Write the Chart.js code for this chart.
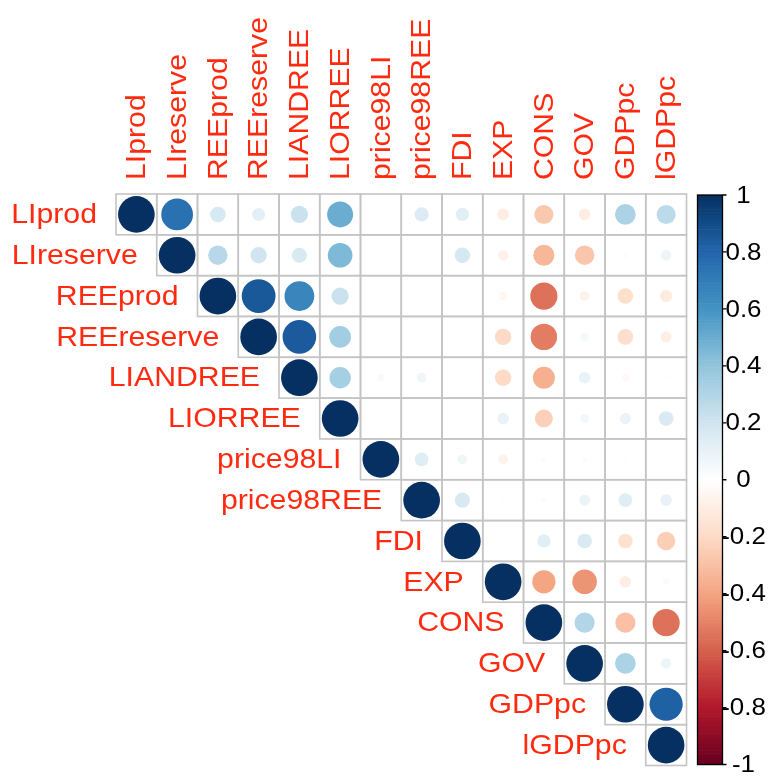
<!DOCTYPE html>
<html>
<head>
<meta charset="utf-8">
<script src="https://cdn.jsdelivr.net/npm/chart.js@4.4.1/dist/chart.umd.min.js"></script>
<style>
  html, body { margin: 0; padding: 0; background: #ffffff; }
  #wrap { width: 769px; height: 778px; position: relative; }
</style>
</head>
<body>
<div id="wrap"><canvas id="corr"></canvas></div>
<script>
// Variable names (row and column order of the correlation matrix)
const variables = ['LIprod', 'LIreserve', 'REEprod', 'REEreserve', 'LIANDREE', 'LIORREE',
  'price98LI', 'price98REE', 'FDI', 'EXP', 'CONS', 'GOV', 'GDPpc', 'lGDPpc'];

// Upper triangle of the correlation matrix, one row per variable, starting at the diagonal
const rowLIprod     = [1, 0.75, 0.18, 0.12, 0.22, 0.50, 0.01, 0.15, 0.13, -0.10, -0.27, -0.10, 0.32, 0.27];
const rowLIreserve  = [1, 0.28, 0.20, 0.17, 0.45, 0.01, 0.01, 0.18, -0.08, -0.33, -0.28, 0.02, 0.08];
const rowREEprod    = [1, 0.85, 0.66, 0.22, 0.01, -0.01, 0.00, -0.05, -0.55, -0.07, -0.18, -0.11];
const rowREEreserve = [1, 0.84, 0.35, 0.01, 0.01, 0.01, -0.20, -0.52, 0.05, -0.18, -0.09];
const rowLIANDREE   = [1, 0.34, 0.04, 0.07, 0.01, -0.20, -0.36, 0.10, -0.04, -0.01];
const rowLIORREE    = [1, 0.00, 0.01, 0.01, 0.10, -0.24, 0.06, 0.09, 0.16];
const rowPrice98LI  = [1, 0.14, 0.07, -0.07, 0.02, 0.02, -0.01, 0.01];
const rowPrice98REE = [1, 0.17, -0.01, 0.02, 0.09, 0.14, 0.10];
const rowFDI        = [1, 0.01, 0.13, 0.16, -0.16, -0.25];
const rowEXP        = [1, -0.40, -0.45, -0.10, -0.03];
const rowCONS       = [1, 0.30, -0.30, -0.55];
const rowGOV        = [1, 0.32, 0.08];
const rowGDPpc      = [1, 0.82];
const rowLGDPpc     = [1];

// Colour legend tick labels
const legendTicks = [1, 0.8, 0.6, 0.4, 0.2, 0, -0.2, -0.4, -0.6, -0.8, -1];

// Diverging red-blue palette anchors from -1 to 1
const paletteStops = ['#67001F', '#B2182B', '#D6604D', '#F4A582', '#FDDBC7', '#FFFFFF',
  '#D1E5F0', '#92C5DE', '#4393C3', '#2166AC', '#053061'];

const upperRows = [rowLIprod, rowLIreserve, rowREEprod, rowREEreserve, rowLIANDREE, rowLIORREE,
  rowPrice98LI, rowPrice98REE, rowFDI, rowEXP, rowCONS, rowGOV, rowGDPpc, rowLGDPpc];

function hexToRgb(h) {
  const n = parseInt(h.slice(1), 16);
  return [(n >> 16) & 255, (n >> 8) & 255, n & 255];
}
const stopRgb = paletteStops.map(hexToRgb);
function corrColor(v) {
  const t = (Math.max(-1, Math.min(1, v)) + 1) / 2 * (stopRgb.length - 1);
  const i = Math.min(Math.floor(t), stopRgb.length - 2);
  const f = t - i;
  const a = stopRgb[i], b = stopRgb[i + 1];
  const c = a.map((x, k) => Math.round(x + (b[k] - x) * f));
  return `rgb(${c[0]},${c[1]},${c[2]})`;
}

// Flatten the triangle into points: x = column index, y = row index
const points = [];
upperRows.forEach((row, r) => {
  row.forEach((v, k) => points.push({ x: r + k, y: r, v: v }));
});

const n = variables.length;
const labelColor = '#ff2a10';
const labelFont = '28px "Liberation Sans", Arial, sans-serif';
const textStretch = 1.08;

function cellSize(chart) {
  const xs = chart.scales.x;
  return Math.abs(xs.getPixelForValue(1) - xs.getPixelForValue(0));
}

function circleRadius(ctx) {
  return ctx.raw ? 0.9 * Math.sqrt(Math.abs(ctx.raw.v)) / 2 * cellSize(ctx.chart) : 0;
}

const corrDecor = {
  id: 'corrDecor',
  beforeDatasetsDraw(chart) {
    const { ctx } = chart;
    const xs = chart.scales.x, ys = chart.scales.y;
    ctx.save();
    ctx.strokeStyle = '#c4c4c4';
    ctx.lineWidth = 1.6;
    for (let r = 0; r < n; r++) {
      for (let c = r; c < n; c++) {
        const x0 = xs.getPixelForValue(c - 0.5), x1 = xs.getPixelForValue(c + 0.5);
        const y0 = ys.getPixelForValue(r - 0.5), y1 = ys.getPixelForValue(r + 0.5);
        ctx.strokeRect(x0, y0, x1 - x0, y1 - y0);
      }
    }
    ctx.restore();
  },
  afterDraw(chart) {
    const { ctx } = chart;
    const xs = chart.scales.x, ys = chart.scales.y;
    ctx.save();
    ctx.fillStyle = labelColor;
    ctx.font = labelFont;
    // Row labels, right aligned before the first cell of each row
    ctx.textBaseline = 'middle';
    ctx.textAlign = 'right';
    variables.forEach((name, r) => {
      const xr = xs.getPixelForValue(r - 0.5) - 19;
      const yc = ys.getPixelForValue(r) + 1;
      ctx.save();
      ctx.translate(xr, yc);
      ctx.scale(textStretch, 1);
      ctx.fillText(name, 0, 0);
      ctx.restore();
    });
    // Column labels, rotated, above the grid
    ctx.textAlign = 'left';
    const topY = ys.getPixelForValue(-0.5) - 14;
    variables.forEach((name, c) => {
      const xc = xs.getPixelForValue(c) + 1;
      ctx.save();
      ctx.translate(xc, topY);
      ctx.rotate(-Math.PI / 2);
      ctx.scale(textStretch, 1);
      ctx.fillText(name, 0, 0);
      ctx.restore();
    });

    // Colour legend bar
    const barL = xs.getPixelForValue(n - 0.5) + 11;
    const barW = 25;
    const barTop = ys.getPixelForValue(-0.5) + 1;
    const barBot = ys.getPixelForValue(n - 0.5) - 1;
    const vy = v => barTop + (1 - v) / 2 * (barBot - barTop);
    const steps = 200;
    for (let i = 0; i < steps; i++) {
      const vHi = 1 - i * 2 / steps, vLo = vHi - 2 / steps;
      ctx.fillStyle = corrColor((vHi + vLo) / 2);
      ctx.fillRect(barL, vy(vHi), barW, vy(vLo) - vy(vHi) + 0.6);
    }
    ctx.strokeStyle = '#000000';
    ctx.lineWidth = 1.3;
    ctx.strokeRect(barL, barTop, barW, barBot - barTop);
    ctx.beginPath();
    legendTicks.forEach(v => {
      ctx.moveTo(barL + barW, vy(v));
      ctx.lineTo(barL + barW + 4, vy(v));
    });
    ctx.stroke();
    ctx.fillStyle = '#000000';
    ctx.font = '24px "Liberation Sans", Arial, sans-serif';
    ctx.textAlign = 'center';
    ctx.textBaseline = 'middle';
    legendTicks.forEach(v => {
      ctx.save();
      ctx.translate(barL + barW + 21, vy(v) + 1);
      ctx.scale(textStretch, 1);
      ctx.fillText(String(v), 0, 0);
      ctx.restore();
    });
    ctx.restore();
  }
};

new Chart(document.getElementById('corr'), {
  type: 'scatter',
  data: {
    datasets: [{
      data: points,
      pointStyle: 'circle',
      borderWidth: 0,
      pointBorderWidth: 0,
      pointBackgroundColor: ctx => corrColor(ctx.raw ? ctx.raw.v : 0),
      pointBorderColor: ctx => corrColor(ctx.raw ? ctx.raw.v : 0),
      pointRadius: circleRadius,
      pointHoverRadius: circleRadius
    }]
  },
  options: {
    responsive: true,
    maintainAspectRatio: false,
    animation: false,
    layout: { padding: { left: 116, top: 194, right: 82.5, bottom: 12.5 } },
    plugins: { legend: { display: false }, tooltip: { enabled: false } },
    scales: {
      x: { type: 'linear', min: -0.5, max: n - 0.5, display: false },
      y: { type: 'linear', min: -0.5, max: n - 0.5, reverse: true, display: false }
    }
  },
  plugins: [corrDecor]
});
</script>
</body>
</html>
